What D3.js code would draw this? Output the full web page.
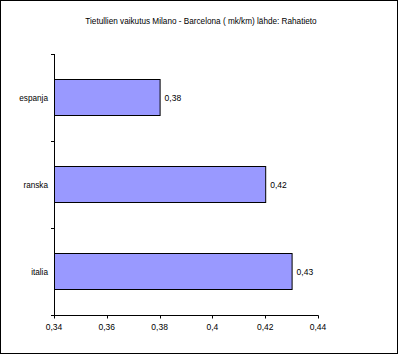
<!DOCTYPE html>
<html><head><meta charset="utf-8">
<script src="https://cdn.jsdelivr.net/npm/d3@7"></script>
<style>body{margin:0;background:#fff}svg{display:block}</style>
</head><body>
<script>
const title = "Tietullien vaikutus Milano - Barcelona ( mk/km) lähde: Rahatieto";
const categories = ["espanja", "ranska", "italia"];
const values = [0.38, 0.42, 0.43];
const valueLabels = ["0,38", "0,42", "0,43"];
const xTicks = [0.34, 0.36, 0.38, 0.40, 0.42, 0.44];
const xTickLabels = ["0,34", "0,36", "0,38", "0,4", "0,42", "0,44"];

const W = 398, H = 354;
const svg = d3.select("body").append("svg").attr("width", W).attr("height", H);
const font = "Liberation Sans, Arial, sans-serif";

svg.append("rect").attr("x", 0.5).attr("y", 0.5).attr("width", W - 1).attr("height", H - 1)
  .attr("fill", "#fff").attr("stroke", "#000");

svg.append("text").attr("x", 201).attr("y", 24).attr("text-anchor", "middle")
  .attr("font-family", font).attr("font-size", 8.2).text(title);

const x = d3.scaleLinear().domain([0.34, 0.44]).range([54, 318]);
const y = d3.scaleBand().domain(categories).range([54, 315]).paddingInner(0.586).paddingOuter(0.293);
const yb = d3.scaleBand().domain(categories).range([54, 315]);

// bars
svg.selectAll("rect.bar").data(categories).enter().append("rect")
  .attr("class", "bar")
  .attr("x", x(0.34) + 0.5)
  .attr("y", d => Math.round(y(d)) + 0.5)
  .attr("width", (d, i) => x(values[i]) - x(0.34))
  .attr("height", Math.round(y.bandwidth()))
  .attr("fill", "#9999ff").attr("stroke", "#000").attr("stroke-width", 1);

// value labels
svg.selectAll("text.val").data(categories).enter().append("text")
  .attr("x", (d, i) => x(values[i]) + 5)
  .attr("y", d => y(d) + y.bandwidth() / 2 + 3)
  .attr("font-family", font).attr("font-size", 8.5).text((d, i) => valueLabels[i]);

// y axis
const ya = svg.append("g");
ya.append("line").attr("x1", 54.5).attr("x2", 54.5).attr("y1", 54).attr("y2", 315.5).attr("stroke", "#000");
const bounds = categories.map(c => yb(c)).concat([315]);
ya.selectAll("line.t").data(bounds).enter().append("line")
  .attr("x1", 51).attr("x2", 54.5).attr("y1", d => Math.round(d) + 0.5).attr("y2", d => Math.round(d) + 0.5)
  .attr("stroke", "#000");
ya.selectAll("text").data(categories).enter().append("text")
  .attr("x", 48).attr("y", d => yb(d) + yb.bandwidth() / 2 + 3)
  .attr("text-anchor", "end").attr("font-family", font).attr("font-size", 8.2).text(d => d);

// x axis
const xa = svg.append("g").attr("transform", "translate(0,315.5)");
xa.append("line").attr("x1", 54).attr("x2", 318.5).attr("stroke", "#000");
xa.selectAll("line.t").data(xTicks).enter().append("line")
  .attr("x1", d => Math.round(x(d)) + 0.5).attr("x2", d => Math.round(x(d)) + 0.5)
  .attr("y1", 0).attr("y2", 3).attr("stroke", "#000");
xa.selectAll("text").data(xTicks).enter().append("text")
  .attr("x", d => x(d)).attr("y", 14).attr("text-anchor", "middle")
  .attr("font-family", font).attr("font-size", 8.5).text((d, i) => xTickLabels[i]);
</script>
</body></html>
